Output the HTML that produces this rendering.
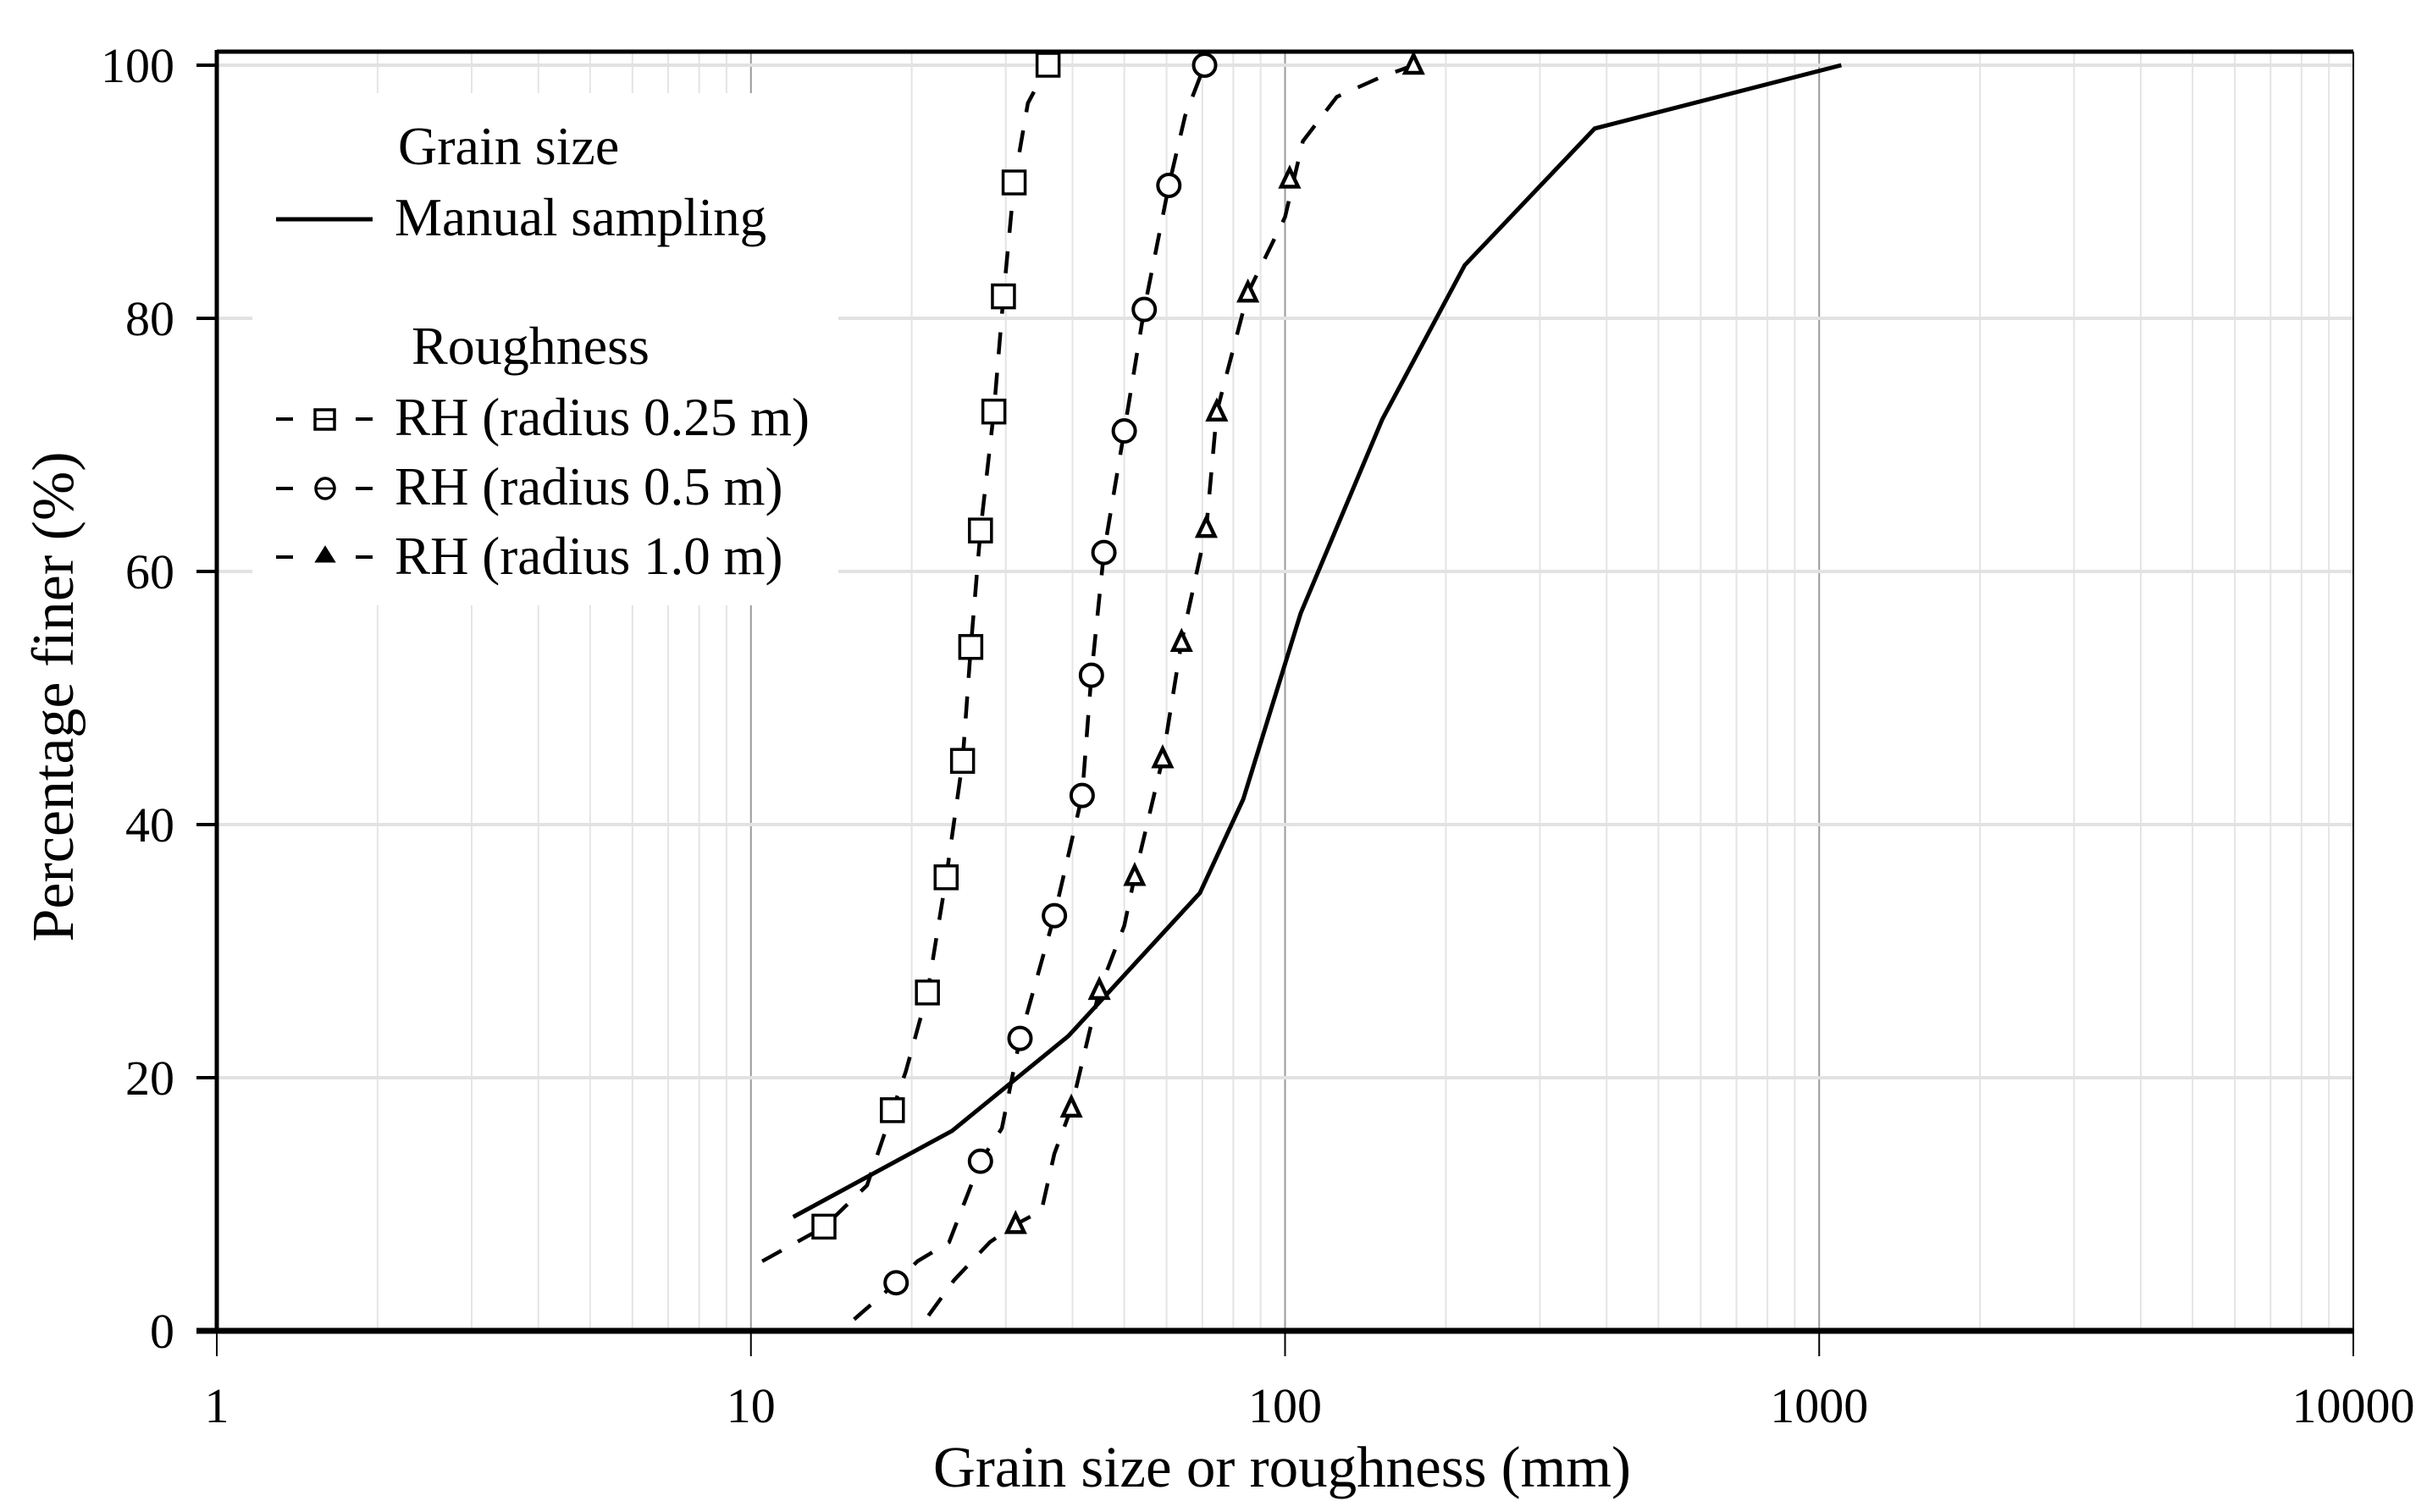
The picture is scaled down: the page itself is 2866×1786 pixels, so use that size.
<!DOCTYPE html>
<html><head><meta charset="utf-8"><style>
html,body{margin:0;padding:0;background:#fff;}
svg{display:block;font-family:"Liberation Serif",serif;}
</style></head><body>
<svg id="chart" width="2866" height="1786" viewBox="0 0 2866 1786" xmlns="http://www.w3.org/2000/svg">
<g id="grid"></g>
<g id="series"></g>
<g id="axes"></g>
<g id="legend">
  <rect x="298" y="110" width="692" height="605" fill="#fff"/>
  <text x="470" y="194" font-size="64">Grain size</text>
  <line x1="326" y1="259" x2="440" y2="259" stroke="#000" stroke-width="5"/>
  <text x="466" y="278" font-size="63">Manual sampling</text>
  <text x="486" y="430" font-size="64">Roughness</text>
  <g>
    <line x1="326" y1="495" x2="346" y2="495" stroke="#000" stroke-width="4"/>
    <line x1="420" y1="495" x2="440" y2="495" stroke="#000" stroke-width="4"/>
    <rect x="372" y="484" width="23" height="23" fill="#fff" stroke="#000" stroke-width="3.5"/>
    <line x1="372" y1="495" x2="395" y2="495" stroke="#000" stroke-width="2.5"/>
    <text x="466" y="514" font-size="63">RH (radius 0.25 m)</text>
  </g>
  <g>
    <line x1="326" y1="577" x2="346" y2="577" stroke="#000" stroke-width="4"/>
    <line x1="420" y1="577" x2="440" y2="577" stroke="#000" stroke-width="4"/>
    <ellipse cx="384" cy="577" rx="11" ry="12" fill="#fff" stroke="#000" stroke-width="3.5"/>
    <line x1="373" y1="577" x2="395" y2="577" stroke="#000" stroke-width="2.5"/>
    <text x="466" y="596" font-size="63">RH (radius 0.5 m)</text>
  </g>
  <g>
    <line x1="326" y1="658" x2="346" y2="658" stroke="#000" stroke-width="4"/>
    <line x1="420" y1="658" x2="440" y2="658" stroke="#000" stroke-width="4"/>
    <polygon points="384,647 394,663 374,663" fill="#000" stroke="#000" stroke-width="3"/>
    <text x="466" y="678" font-size="63">RH (radius 1.0 m)</text>
  </g>
</g>
<script>
const xTickLabels = ["1","10","100","1000","10000"];
const yTickLabels = ["0","20","40","60","80","100"];
const manualX = [12, 23.8, 39.3, 69.3, 83.5, 107, 152, 217, 380, 1100];
const manualY = [9.0, 15.8, 23.3, 34.6, 42, 56.7, 72, 84.2, 95, 100];
const rh025X = [13.7, 18.4, 21.4, 23.2, 24.9, 25.8, 26.9, 28.5, 29.7, 31.1, 36];
const rh025Y = [8.2, 17.4, 26.7, 35.8, 45, 54, 63.2, 72.6, 81.7, 90.7, 100];
const rh025LineX = [10.5, 13.7, 16.5, 18.4, 19.5, 21.4, 23.2, 24.9, 25.8, 26.9, 28.5, 29.7, 31.1, 33, 36];
const rh025LineY = [5.5, 8.2, 11.5, 17.4, 20.5, 26.7, 35.8, 45, 54, 63.2, 72.6, 81.7, 90.7, 97, 100];
const rh05X = [18.7, 26.9, 31.9, 37, 41.7, 43.4, 45.8, 50, 54.5, 60.6, 70.7];
const rh05Y = [3.8, 13.4, 23.1, 32.8, 42.3, 51.8, 61.5, 71.1, 80.7, 90.5, 100];
const rh05LineX = [15.6, 18.7, 20.5, 23.5, 26.9, 29.5, 31.9, 37, 41.7, 43.4, 45.8, 50, 54.5, 60.6, 65, 70.7];
const rh05LineY = [0.9, 3.8, 5.5, 7, 13.4, 16, 23.1, 32.8, 42.3, 51.8, 61.5, 71.1, 80.7, 90.5, 96, 100];
const rh10X = [31.3, 39.8, 44.9, 52.3, 59, 64, 71.2, 74.5, 85.2, 102, 174];
const rh10Y = [8.4, 17.6, 26.9, 35.9, 45.2, 54.4, 63.4, 72.6, 82, 91, 100];
const rh10LineX = [21.5, 24, 28, 31.3, 35, 37, 39.8, 44.9, 50, 52.3, 59, 64, 71.2, 74.5, 85.2, 100, 108, 125, 150, 174];
const rh10LineY = [1.2, 4, 7, 8.4, 9.5, 14, 17.6, 26.9, 32, 35.9, 45.2, 54.4, 63.4, 72.6, 82, 88, 94, 97.5, 99, 100];

const L = 256, R = 2779, T = 77, B = 1572;
const xs = v => L + (Math.log10(v) - 0) / 4 * (R - L);
const ys = v => B - v / 100 * (B - T);
const NS = "http://www.w3.org/2000/svg";
function mk(tag, attrs, parent) {
  const el = document.createElementNS(NS, tag);
  for (const k in attrs) el.setAttribute(k, attrs[k]);
  parent.appendChild(el);
  return el;
}
const grid = document.getElementById('grid');
const axes = document.getElementById('axes');
const series = document.getElementById('series');

for (let d = 0; d < 4; d++) {
  for (let m = 2; m <= 9; m++) {
    const x = xs(Math.pow(10, d) * m);
    const g = mk('line', {x1: x, y1: T - 16, x2: x, y2: B, stroke: '#e4e4e4', 'stroke-width': 2}, grid);
    
    
  }
}
for (let d = 1; d < 4; d++) {
  const x = xs(Math.pow(10, d));
  const g = mk('line', {x1: x, y1: T - 16, x2: x, y2: B, stroke: '#9a9a9a', 'stroke-width': 2}, grid);
  
  
}
yTickLabels.forEach((t, i) => {
  const y = ys(+t);
  if (+t > 0) {
    const g = mk('line', {x1: L, y1: y, x2: R, y2: y, stroke: '#e2e2e2', 'stroke-width': 4}, grid);
    
    
  }
  const tk = mk('line', {x1: L - 24, y1: y, x2: L, y2: y, stroke: '#000', 'stroke-width': 4}, axes);
  
  
  const tx = mk('text', {x: 206, y: y + 20, 'font-size': 58, 'text-anchor': 'end'}, axes);
  tx.textContent = t;
  
  
});
xTickLabels.forEach((t) => {
  const x = xs(+t);
  const tk = mk('line', {x1: x, y1: B, x2: x, y2: B + 30, stroke: '#000', 'stroke-width': 2}, axes);
  
  
  const tx = mk('text', {x: x, y: 1680, 'font-size': 58, 'text-anchor': 'middle'}, axes);
  tx.textContent = t;
  
  
});
let f = mk('line', {x1: L, y1: T - 16, x2: R, y2: T - 16, stroke: '#000', 'stroke-width': 5}, axes);
 
f = mk('line', {x1: R, y1: T - 16, x2: R, y2: B, stroke: '#000', 'stroke-width': 2}, axes);
 
f = mk('line', {x1: L, y1: T - 18, x2: L, y2: B + 2, stroke: '#000', 'stroke-width': 5}, axes);
 
f = mk('line', {x1: L - 24, y1: B, x2: R, y2: B, stroke: '#000', 'stroke-width': 7}, axes);
 
let tt = mk('text', {x: 1514, y: 1756, 'font-size': 69, 'text-anchor': 'middle'}, axes);
tt.textContent = 'Grain size or roughness (mm)';
 
tt = mk('text', {x: 0, y: 0, 'font-size': 70, 'text-anchor': 'middle', transform: 'translate(86,823) rotate(-90)'}, axes);
tt.textContent = 'Percentage finer (%)';
 

function path(xa, ya) {
  return xa.map((v, i) => (i ? 'L' : 'M') + xs(v).toFixed(1) + ',' + ys(ya[i]).toFixed(1)).join(' ');
}
let p = mk('path', {d: path(manualX, manualY), fill: 'none', stroke: '#000', 'stroke-width': 5}, series);
 
[[rh025LineX, rh025LineY, 'rh-025-line'], [rh05LineX, rh05LineY, 'rh-05-line'], [rh10LineX, rh10LineY, 'rh-10-line']].forEach(s => {
  const q = mk('path', {d: path(s[0], s[1]), fill: 'none', stroke: '#000', 'stroke-width': 4.5, 'stroke-dasharray': '26,22'}, series);
  
  
});
rh025X.forEach((v, i) => {
  const m = mk('rect', {x: xs(v) - 13, y: ys(rh025Y[i]) - 14, width: 26, height: 27, fill: '#fff', stroke: '#000', 'stroke-width': 3.5}, series);
  
  
});
rh05X.forEach((v, i) => {
  const m = mk('ellipse', {cx: xs(v), cy: ys(rh05Y[i]), rx: 13, ry: 13, fill: '#fff', stroke: '#000', 'stroke-width': 4}, series);
  
  
});
rh10X.forEach((v, i) => {
  const x = xs(v), y = ys(rh10Y[i]);
  const m = mk('polygon', {points: `${x},${y - 12} ${x + 10},${y + 9} ${x - 10},${y + 9}`, fill: '#fff', stroke: '#000', 'stroke-width': 4.5}, series);
  
  
});
</script>
</svg>
</body></html>
